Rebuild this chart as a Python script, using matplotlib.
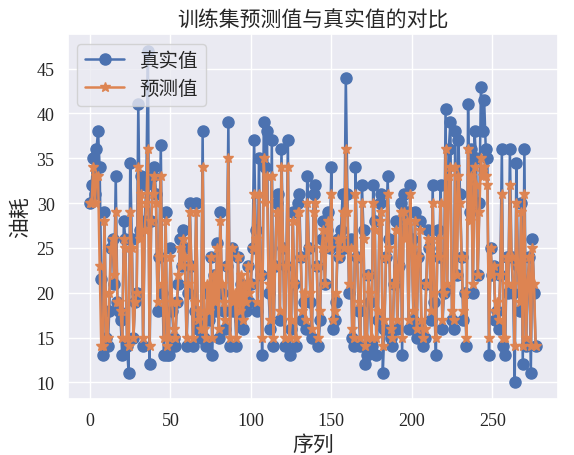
import matplotlib
matplotlib.use("Agg")
import matplotlib.pyplot as plt
import seaborn as sns

real = [30,32,35,31,36,38,34,21.5,13,29,15,14,18,25,26,21,33,19,18,17,
        13,28,26,14,11,34.5,26,15,19,20,41,27,33,14,28,32,47,12,28,33,
        34,31,18,24,36.5,20,13,29,13,13,25,18,15,14,19,21,26,23,27,25,
        14,20,30,23,14,18,30,16,17,15,38,15,14,20,17,24,13,22,18,25.5,
        15,29,20,18,16,23,39,14,25,18,19,14,24,17,21,16,20,18,23,19,
        21,25,37,27,18,35,22,13,39,34,38,20,16,37,14,23,30,31,17,36,
        25,14,23,37,13,16,29,21,14,30,31,24,17,19,16,33,25,19,15,31,
        32,23,14,17,26,28,21,27,29,25,34,16,17,19,26,24,27,31,25,44,
        31,20,26,15,14,34,24,18,14,32,27,12,13,22,19,14,32,28,13,17,
        30,31,11,16,24,33,26,15,14,21,28,16,23,30,13,31,27,29,16,32,
        26,17,29,15,24,28,16,14,15,21,27,25,17,32,19,13,27,24,32,16,
        20,40.5,20.5,36,39,17,16,38,22,37,31,24,17,20,14,41,29,36,20,38,
        35,22,30,43,38,41.5,36,35,13,25,22,23,17,18,16,22,36,14,13,24,
        20,36,24,20,10,34.5,23,18,30,12,36,14,21,24,11,26,20,14]
pred = [30,30,34,30,33,33,23,14,14,28,15,15,20,25,26,22,29,19,19,18,
        15,26,25,15,14,29,25,15,19,20,34,26,31,15,27,30,36,14,28,31,
        33,30,19,24,33,21,15,28,14,15,24,19,16,15,19,22,25,23,26,24,
        15,21,29,23,15,19,29,17,18,16,34,16,15,21,18,24,15,22,19,25,
        16,28,21,19,17,23,35,15,25,19,20,15,24,18,22,17,21,19,23,20,
        21,25,31,26,19,31,22,15,35,30,33,21,17,33,15,23,29,29,18,34,
        25,15,23,34,15,17,28,21,15,29,29,24,18,20,17,30,25,20,16,29,
        30,23,15,18,25,27,21,26,28,25,31,17,18,20,26,24,26,29,25,36,
        29,21,25,16,15,31,24,19,15,30,26,14,15,22,20,15,30,27,15,18,
        28,29,14,17,24,31,25,16,15,21,27,17,23,29,15,29,26,28,17,31,
        25,18,28,16,24,27,17,15,16,21,26,25,18,30,20,15,26,24,30,17,
        20,36,21,33,34,18,17,34,22,33,30,24,18,20,15,36,28,33,21,34,
        32,22,29,35,33,34,33,32,15,25,22,23,18,19,17,22,31,15,15,24,
        21,32,24,21,14,30,23,19,29,14,31,15,21,24,14,25,21,14]

sns.set_theme(style="darkgrid")
plt.rcParams['font.family'] = ['Liberation Serif', 'Noto Sans CJK SC']
plt.rcParams['axes.unicode_minus'] = False

fig, ax = plt.subplots(figsize=(5.74, 4.56), dpi=100)
fig.subplots_adjust(left=0.118, right=0.972, top=0.923, bottom=0.123)
ax.plot(range(len(real)), real, marker="o", markersize=8, linewidth=1.8, label="真实值")
ax.plot(range(len(pred)), pred, marker="*", markersize=7, linewidth=1.8, label="预测值")
ax.set_title("训练集预测值与真实值的对比", fontsize=15)
ax.set_xlabel("序列", fontsize=15)
ax.set_ylabel("油耗", fontsize=15)
ax.tick_params(labelsize=13)
ax.legend(loc="upper left", fontsize=14)
fig.savefig("out.png")
